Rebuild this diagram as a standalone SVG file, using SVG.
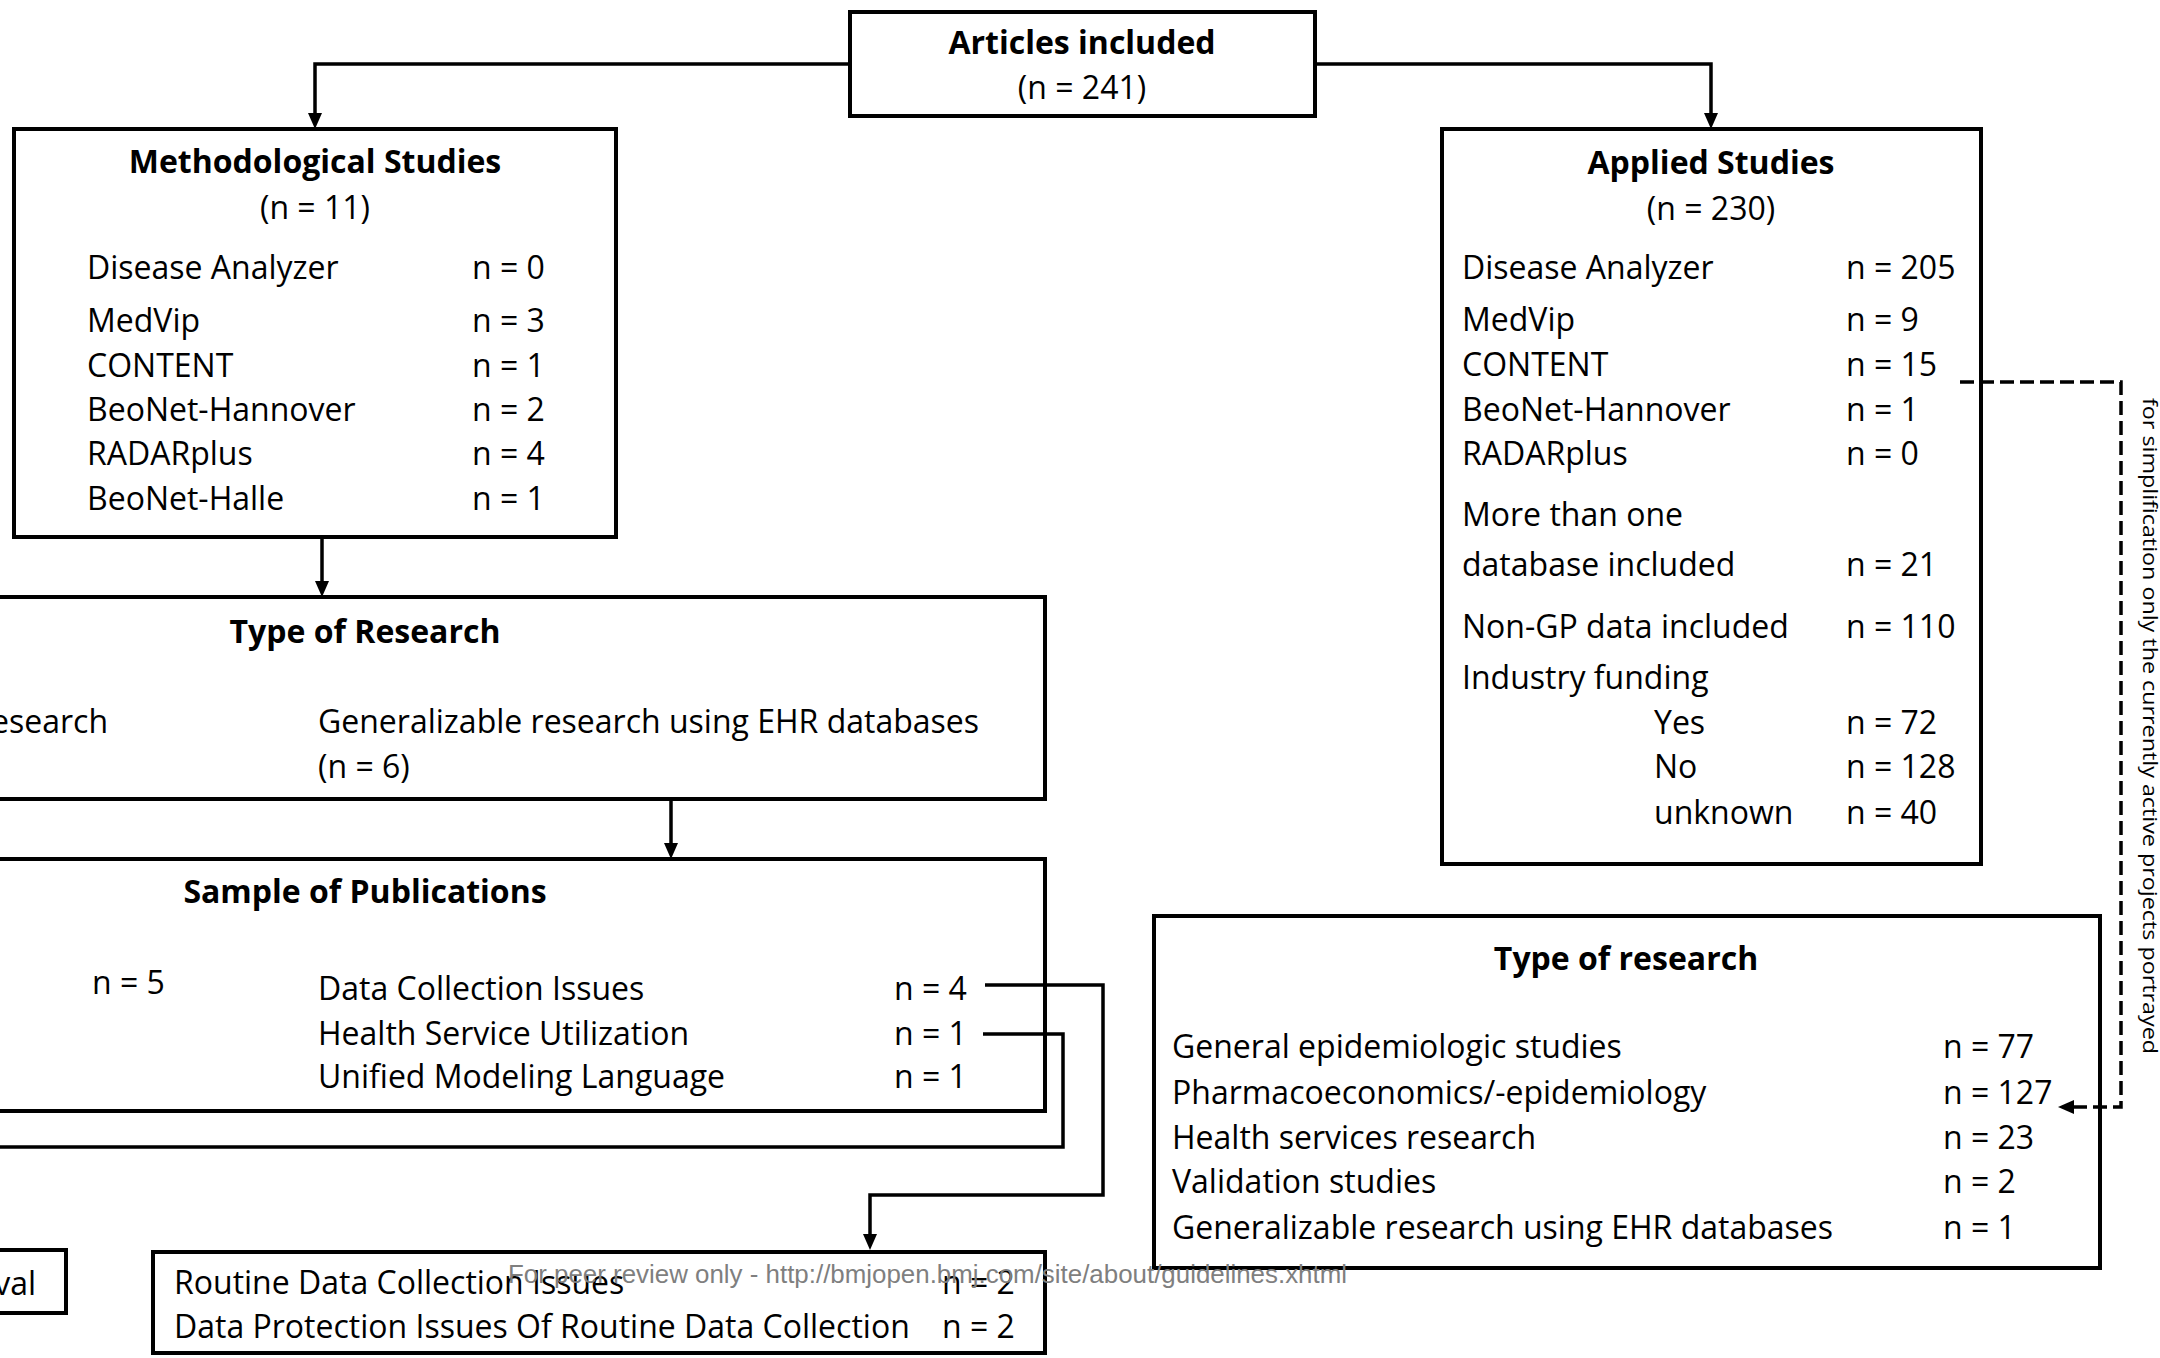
<svg xmlns="http://www.w3.org/2000/svg" width="2160" height="1358" viewBox="0 0 2160 1358">
<style>
  text { font-family: "Open Sans", "Liberation Sans", sans-serif; font-size: 32px; fill: #000; }
  .b { font-weight: bold; }
  .c { text-anchor: middle; }
  .e { text-anchor: end; }
  .box { fill: #fff; stroke: #000; stroke-width: 4; }
  .ln { fill: none; stroke: #000; stroke-width: 3.5; }
  .dash { fill: none; stroke: #000; stroke-width: 3.5; stroke-dasharray: 14 6; }
  .wm { font-family: "Liberation Sans", Arial, sans-serif; font-size: 25px; fill: #7f7f7f; }
  .note { font-size: 19.5px; }
</style>
<defs>
  <marker id="arr" viewBox="0 0 16 14" markerWidth="16" markerHeight="14" refX="10" refY="7" orient="auto" markerUnits="userSpaceOnUse">
    <path d="M0,0 L16,7 L0,14 Z" fill="#000"/>
  </marker>
</defs>

<g id="articles">
  <rect class="box" x="850" y="12" width="465" height="104"/>
  <text class="b c" x="1082" y="54">Articles included</text>
  <text class="c" x="1082" y="99">(n = 241)</text>
</g>

<g id="methodological">
  <rect class="box" x="14" y="129" width="602" height="408"/>
  <text class="b c" x="315" y="173">Methodological Studies</text>
  <text class="c" x="315" y="219">(n = 11)</text>
  <text x="87" y="279">Disease Analyzer</text><text x="472" y="279">n = 0</text>
  <text x="87" y="332">MedVip</text><text x="472" y="332">n = 3</text>
  <text x="87" y="377">CONTENT</text><text x="472" y="377">n = 1</text>
  <text x="87" y="421">BeoNet-Hannover</text><text x="472" y="421">n = 2</text>
  <text x="87" y="465">RADARplus</text><text x="472" y="465">n = 4</text>
  <text x="87" y="510">BeoNet-Halle</text><text x="472" y="510">n = 1</text>
</g>

<g id="applied">
  <rect class="box" x="1442" y="129" width="539" height="735"/>
  <text class="b c" x="1711" y="174">Applied Studies</text>
  <text class="c" x="1711" y="220">(n = 230)</text>
  <text x="1462" y="279">Disease Analyzer</text><text x="1846" y="279">n = 205</text>
  <text x="1462" y="331">MedVip</text><text x="1846" y="331">n = 9</text>
  <text x="1462" y="376">CONTENT</text><text x="1846" y="376">n = 15</text>
  <text x="1462" y="421">BeoNet-Hannover</text><text x="1846" y="421">n = 1</text>
  <text x="1462" y="465">RADARplus</text><text x="1846" y="465">n = 0</text>
  <text x="1462" y="526">More than one</text>
  <text x="1462" y="576">database included</text><text x="1846" y="576">n = 21</text>
  <text x="1462" y="638">Non-GP data included</text><text x="1846" y="638">n = 110</text>
  <text x="1462" y="689">Industry funding</text>
  <text x="1654" y="734">Yes</text><text x="1846" y="734">n = 72</text>
  <text x="1654" y="778">No</text><text x="1846" y="778">n = 128</text>
  <text x="1654" y="824">unknown</text><text x="1846" y="824">n = 40</text>
</g>

<g id="type-of-research-left">
  <rect class="box" x="-20" y="597" width="1065" height="202"/>
  <text class="b c" x="365" y="643">Type of Research</text>
  <text class="e" x="108" y="733">esearch</text>
  <text x="318" y="733">Generalizable research using EHR databases</text>
  <text x="318" y="778">(n = 6)</text>
</g>

<g id="sample-of-publications">
  <rect class="box" x="-20" y="859" width="1065" height="252"/>
  <text class="b c" x="365" y="903">Sample of Publications</text>
  <text x="92" y="994">n = 5</text>
  <text x="318" y="1000">Data Collection Issues</text><text x="894" y="1000">n = 4</text>
  <text x="318" y="1045">Health Service Utilization</text><text x="894" y="1045">n = 1</text>
  <text x="318" y="1088">Unified Modeling Language</text><text x="894" y="1088">n = 1</text>
</g>

<g id="val-box">
  <rect class="box" x="-20" y="1250" width="86" height="63"/>
  <text class="e" x="36" y="1295">val</text>
</g>

<g id="routine">
  <rect class="box" x="153" y="1252" width="892" height="101"/>
  <text x="174" y="1294">Routine Data Collection Issues</text><text x="942" y="1294">n = 2</text>
  <text x="174" y="1338">Data Protection Issues Of Routine Data Collection</text><text x="942" y="1338">n = 2</text>
</g>

<g id="type-of-research-right">
  <rect class="box" x="1154" y="916" width="946" height="352"/>
  <text class="b c" x="1626" y="970">Type of research</text>
  <text x="1172" y="1058">General epidemiologic studies</text><text x="1943" y="1058">n = 77</text>
  <text x="1172" y="1104">Pharmacoeconomics/-epidemiology</text><text x="1943" y="1104">n = 127</text>
  <text x="1172" y="1149">Health services research</text><text x="1943" y="1149">n = 23</text>
  <text x="1172" y="1193">Validation studies</text><text x="1943" y="1193">n = 2</text>
  <text x="1172" y="1239">Generalizable research using EHR databases</text><text x="1943" y="1239">n = 1</text>
</g>

<g id="connectors">
  <path class="ln" d="M850,64 H315 V123" marker-end="url(#arr)"/>
  <path class="ln" d="M1315,64 H1711 V123" marker-end="url(#arr)"/>
  <path class="ln" d="M322,539 V591" marker-end="url(#arr)"/>
  <path class="ln" d="M671,801 V853" marker-end="url(#arr)"/>
  <path class="ln" d="M985,985 H1103 V1195 H870 V1244" marker-end="url(#arr)"/>
  <path class="ln" d="M983,1034 H1063 V1147 H-10"/>
  <path class="dash" d="M1960,382 H2121 V1107 H2064" marker-end="url(#arr)"/>
</g>

<g id="note">
  <text class="note" transform="translate(2143,398) rotate(90)" textLength="656" lengthAdjust="spacingAndGlyphs">for simplification only the currently active projects portrayed</text>
</g>

<text class="wm" x="508" y="1283" textLength="839" lengthAdjust="spacingAndGlyphs">For peer review only - http://bmjopen.bmj.com/site/about/guidelines.xhtml</text>
</svg>
